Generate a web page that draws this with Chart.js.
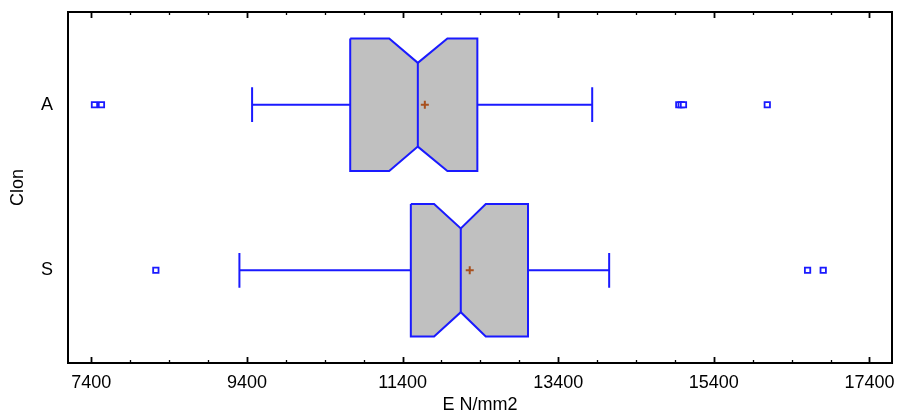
<!DOCTYPE html>
<html>
<head>
<meta charset="utf-8">
<script src="https://cdn.jsdelivr.net/npm/chart.js@4.4.1/dist/chart.umd.min.js"></script>
<style>
  html, body { margin: 0; padding: 0; background: #fff; }
  #wrap { width: 898px; height: 414px; }
</style>
</head>
<body>
<div id="wrap"><canvas id="myChart" width="898" height="414"></canvas></div>
<script>
// datos (E N/mm2 por clon)
const clones = ['A', 'S'];
const whiskerLow = [9466, 9303];
const q1 = [10727, 11506];
const notchLow = [11228, 11805];
const median = [11596, 12148];
const notchHigh = [11976, 12469];
const q3 = [12361, 13012];
const whiskerHigh = [13837, 14055];
const means = [11686, 12263];
const outliersA = [7440, 7530, 14950, 14980, 15010, 16087];
const outliersS = [8229, 16605, 16806];
const xTicks = [7400, 9400, 11400, 13400, 15400, 17400];

// tamaños (en unidades del eje de categorias)
const boxHalf = 0.4;
const notchHalf = 0.253;
const capHalf = 0.105;
const xMin = 7100, xMax = 17690;

const blue = '#1a1aff';
const gap = { x: null, y: null };

const datasets = [];
clones.forEach((c, i) => {
    const y = i + 1;
    // caja con muesca
    datasets.push({
        type: 'line',
        data: [
            { x: q1[i], y: y - boxHalf }, { x: notchLow[i], y: y - boxHalf },
            { x: median[i], y: y - notchHalf }, { x: notchHigh[i], y: y - boxHalf },
            { x: q3[i], y: y - boxHalf }, { x: q3[i], y: y + boxHalf },
            { x: notchHigh[i], y: y + boxHalf }, { x: median[i], y: y + notchHalf },
            { x: notchLow[i], y: y + boxHalf }, { x: q1[i], y: y + boxHalf },
            { x: q1[i], y: y - boxHalf }
        ],
        borderColor: blue, borderWidth: 2, backgroundColor: '#c0c0c0',
        fill: 'shape', pointRadius: 0, tension: 0, order: 3
    });
    // mediana y bigotes
    datasets.push({
        type: 'line',
        data: [
            { x: median[i], y: y - notchHalf }, { x: median[i], y: y + notchHalf }, gap,
            { x: whiskerLow[i], y: y - capHalf }, { x: whiskerLow[i], y: y + capHalf }, gap,
            { x: whiskerLow[i], y: y }, { x: q1[i], y: y }, gap,
            { x: q3[i], y: y }, { x: whiskerHigh[i], y: y }, gap,
            { x: whiskerHigh[i], y: y - capHalf }, { x: whiskerHigh[i], y: y + capHalf }
        ],
        borderColor: blue, borderWidth: 2, fill: false, pointRadius: 0,
        spanGaps: false, tension: 0, order: 2
    });
    // media
    datasets.push({
        data: [{ x: means[i], y: y }],
        pointStyle: 'cross', pointRadius: 4, borderWidth: 2,
        borderColor: '#a8501e', order: 0
    });
});
// atipicos
[outliersA, outliersS].forEach((arr, i) => {
    datasets.push({
        data: arr.map(v => ({ x: v, y: i + 1 })),
        pointStyle: 'rect', pointRadius: 3.8, borderWidth: 1.8,
        borderColor: blue, backgroundColor: '#fff', order: 1
    });
});

// marco y marcas hacia dentro
const frameTicks = {
    id: 'frameTicks',
    afterDatasetsDraw(chart) {
        const { ctx, chartArea: a, scales: { x } } = chart;
        ctx.save();
        ctx.strokeStyle = '#000';
        for (let v = xTicks[0]; v <= xMax; v += 500) {
            const major = xTicks.includes(v);
            const px = Math.round(x.getPixelForValue(v)) + 0.5;
            const len = major ? 6 : 3;
            ctx.lineWidth = major ? 1.8 : 1.3;
            ctx.beginPath();
            ctx.moveTo(px, a.bottom); ctx.lineTo(px, a.bottom - len);
            ctx.moveTo(px, a.top); ctx.lineTo(px, a.top + len);
            ctx.stroke();
        }
        ctx.lineWidth = 2;
        ctx.strokeRect(a.left, a.top, a.width, a.height);
        ctx.restore();
    }
};

const font = { family: "'Liberation Sans', Arial, sans-serif", size: 18 };

new Chart(document.getElementById('myChart'), {
    type: 'scatter',
    data: { datasets: datasets },
    options: {
        responsive: false,
        animation: false,
        layout: { padding: { top: 12, right: 5, left: 0, bottom: 0 } },
        plugins: { legend: { display: false }, tooltip: { enabled: false } },
        scales: {
            x: {
                type: 'linear', min: xMin, max: xMax,
                afterBuildTicks: s => { s.ticks = xTicks.map(v => ({ value: v })); },
                afterFit: s => { s.height = 51; s.paddingLeft = 0; s.paddingRight = 0; },
                ticks: { color: '#000', font: font, padding: 9, maxRotation: 0,
                    callback: v => String(v) },
                grid: { display: false, drawTicks: false },
                border: { display: false },
                title: { display: true, text: 'E N/mm2', color: '#000',
                    font: { ...font, lineHeight: 1 }, padding: 0 }
            },
            y: {
                type: 'linear', min: 0.44, max: 2.56, reverse: true,
                afterBuildTicks: s => { s.ticks = clones.map((c, i) => ({ value: i + 1 })); },
                afterFit: s => { s.width = 68; s.paddingTop = 0; s.paddingBottom = 0; },
                ticks: { color: '#000', font: font, padding: 15,
                    callback: v => clones[v - 1] },
                grid: { display: false, drawTicks: false },
                border: { display: false },
                title: { display: true, text: 'Clon', color: '#000',
                    font: { ...font, lineHeight: 1 }, padding: { top: 9, bottom: 0 } }
            }
        }
    },
    plugins: [frameTicks]
});
</script>
</body>
</html>
